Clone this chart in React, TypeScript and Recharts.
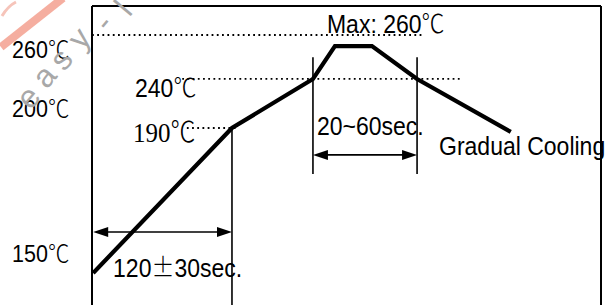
import React from 'react';
import { LineChart, Line, XAxis, YAxis, ReferenceLine, ReferenceDot } from 'recharts';

// Reflow profile (schematic): time in seconds, vertical "level" (0-100 of frame height)
const profileTime = [1, 121, 191, 210, 242, 281, 362];
const profileLevel = [10.7, 59.2, 75.6, 86.6, 86.6, 75.6, 57.9];

// Left temperature tick labels
const yTickLevels = [85.3, 65.8, 17.3];
const yTickLabels = ['260℃', '200℃', '150℃'];

// Dotted guide lines: [startTime, endTime, level]
const dottedStart = [0, 78, 82];
const dottedEnd = [286, 318, 126];
const dottedLevel = [90.3, 75.6, 59.2];

// Vertical marker lines
const vTime = [121, 191, 281];
const vTop = [59.2, 82.9, 82.9];
const vBottom = [0, 43.8, 43.8];

// Double arrows
const arrowStart = [1, 191];
const arrowEnd = [121, 281];
const arrowLevel = [24.4, 50.2];

// Annotation texts
const noteTexts = ['Max: 260℃', '240℃', '190℃', '20~60sec.', 'Gradual Cooling', '120±30sec.'];
const noteTime = [203.1, 37.2, 35.4, 194.5, 300, 18.2];
const noteLevel = [91.0, 69.7, 54.6, 56.9, 50.2, 9.5];
const noteSerif = [false, false, true, false, false, false];

// Watermark letters (decoration)
const wmLetters = ['e', 'a', 's', 'y', '-', 'l'];
const wmX = [28, 44, 61, 79, 103, 123];
const wmY = [97, 76, 59, 38, 22, 8];

const data = profileTime.map((t, i) => ({ t, level: profileLevel[i] }));

const SANS = '"Liberation Sans", Arial, sans-serif';
const SERIF = '"Liberation Serif", "Times New Roman", serif';
const CJK = '"Noto Sans CJK JP", "Noto Sans CJK SC", sans-serif';

function richText(str: string, x: number, y: number, size: number, family: string) {
  const parts = str.split(/(℃|±)/).filter((p) => p.length > 0);
  return (
    <text
      x={0}
      y={0}
      transform={`translate(${x},${y}) scale(1,1.13)`}
      style={{ fontSize: size, fontFamily: family }}
      fill="#000"
      textAnchor="start"
    >
      {parts.map((p, i) =>
        p === '℃' || p === '±' ? (
          <tspan key={i} style={{ fontFamily: CJK, fontWeight: 300 }}>
            {p}
          </tspan>
        ) : (
          <tspan key={i}>{p}</tspan>
        )
      )}
    </text>
  );
}

const YTick = (props: any) => {
  const { y, payload } = props;
  const idx = yTickLevels.indexOf(payload.value);
  const label = idx >= 0 ? yTickLabels[idx] : '';
  return richText(label, 12, y + 8.5, 21.5, SANS);
};

const arrowShape = (props: any) => {
  const { x1, y1, x2, y2 } = props;
  const L = 15;
  const H = 5;
  return (
    <g>
      <line x1={x1 + 4} y1={y1} x2={x2 - 4} y2={y2} stroke="#000" strokeWidth={1.6} />
      <polygon points={`${x1},${y1} ${x1 + L},${y1 - H} ${x1 + L},${y1 + H}`} fill="#000" />
      <polygon points={`${x2},${y2} ${x2 - L},${y2 - H} ${x2 - L},${y2 + H}`} fill="#000" />
    </g>
  );
};

export default function App() {
  return (
    <div style={{ position: 'absolute', left: 0, top: 0, width: 614, height: 305, background: '#fff' }}>
      <LineChart width={614} height={305} data={data} margin={{ top: 6, right: 13, bottom: 0, left: 0 }}>
        <XAxis type="number" dataKey="t" domain={[0, 440]} hide allowDataOverflow />
        <YAxis
          type="number"
          domain={[0, 100]}
          ticks={yTickLevels}
          width={92}
          tickLine={false}
          axisLine={{ stroke: '#000', strokeWidth: 2 }}
          tick={<YTick />}
          interval={0}
          allowDataOverflow
        />
        {/* frame */}
        <ReferenceLine y={100} stroke="#000" strokeWidth={2} ifOverflow="visible" />
        <ReferenceLine x={440} stroke="#000" strokeWidth={2} ifOverflow="visible" />
        {dottedLevel.map((lv, i) => (
          <ReferenceLine
            key={'d' + i}
            segment={[
              { x: dottedStart[i], y: lv },
              { x: dottedEnd[i], y: lv },
            ]}
            stroke="#000"
            strokeWidth={1.8}
            strokeDasharray="1.8 3.4"
            ifOverflow="visible"
          />
        ))}
        {vTime.map((t, i) => (
          <ReferenceLine
            key={'v' + i}
            segment={[
              { x: t, y: vTop[i] },
              { x: t, y: vBottom[i] },
            ]}
            stroke="#000"
            strokeWidth={1.6}
            ifOverflow="visible"
          />
        ))}
        {arrowLevel.map((lv, i) => (
          <ReferenceLine
            key={'a' + i}
            segment={[
              { x: arrowStart[i], y: lv },
              { x: arrowEnd[i], y: lv },
            ]}
            shape={arrowShape}
            ifOverflow="visible"
          />
        ))}
        <Line
          type="linear"
          dataKey="level"
          stroke="#000"
          strokeWidth={4.2}
          dot={false}
          activeDot={false}
          isAnimationActive={false}
        />
        {noteTexts.map((txt, i) => (
          <ReferenceDot
            key={'n' + i}
            x={noteTime[i]}
            y={noteLevel[i]}
            r={0}
            ifOverflow="visible"
            shape={(p: any) => richText(txt, p.cx, p.cy, noteSerif[i] ? 25 : 23, noteSerif[i] ? SERIF : SANS)}
          />
        ))}
      </LineChart>
      <svg
        width={614}
        height={305}
        style={{ position: 'absolute', left: 0, top: 0, pointerEvents: 'none' }}
      >
        <line x1={63} y1={-2} x2={1} y2={47} stroke="#f4a190" strokeWidth={8} opacity={0.85} />
        <path d="M 2 16 Q 8 6 16 2" stroke="#f6c4ba" strokeWidth={3} fill="none" />
        {wmLetters.map((ch, i) => (
          <text
            key={i}
            x={0}
            y={0}
            transform={`translate(${wmX[i]},${wmY[i]}) rotate(-50)`}
            fontSize={32}
            style={{ fontSize: 32, fontFamily: SANS }}
            fill="#a8a8a8"
            textAnchor="middle"
            dominantBaseline="central"
          >
            {ch}
          </text>
        ))}
      </svg>
    </div>
  );
}
